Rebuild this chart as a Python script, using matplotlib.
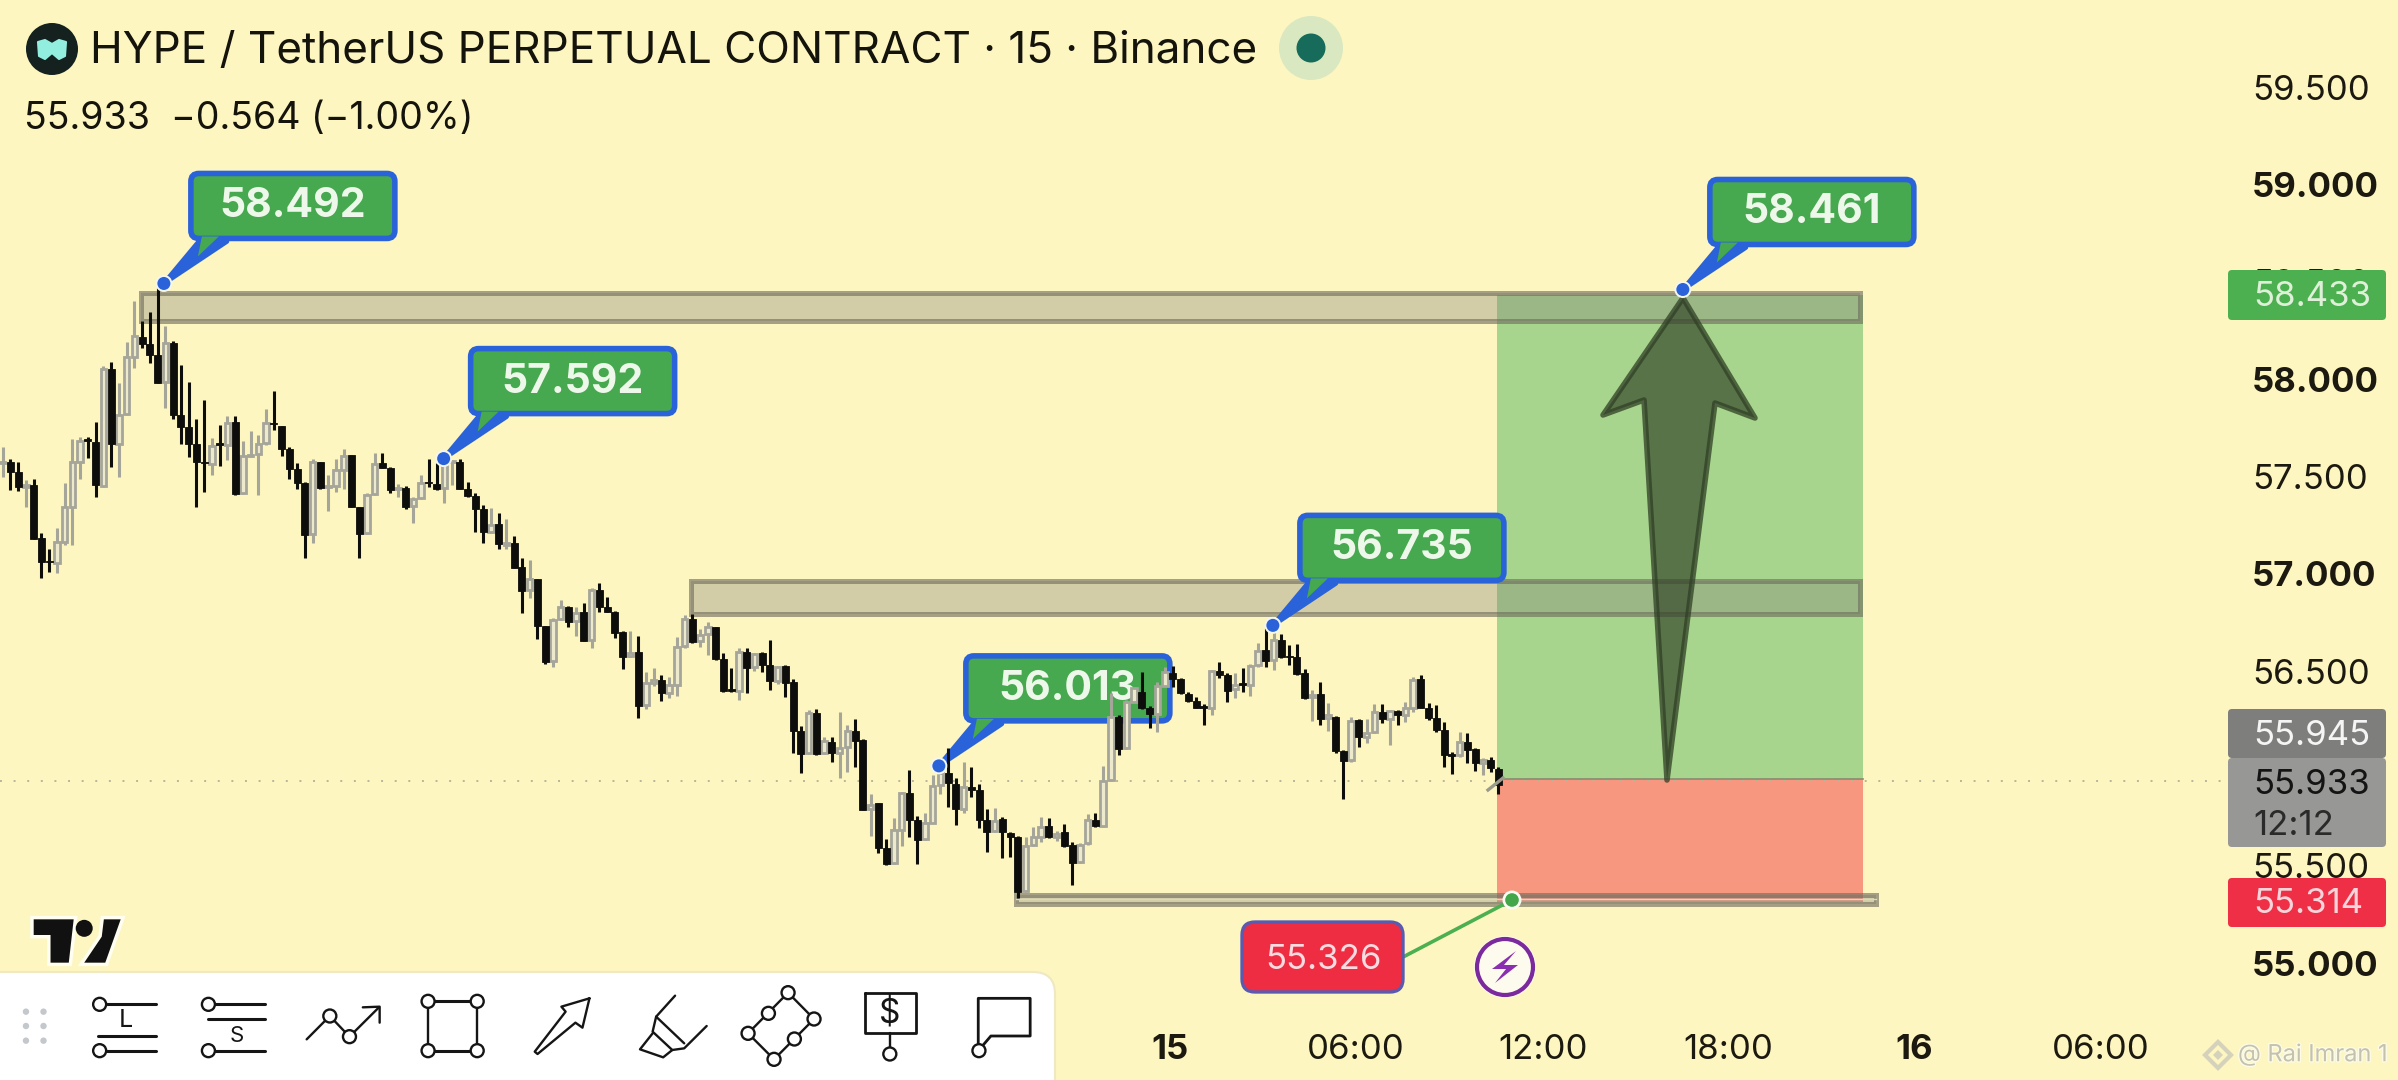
import matplotlib
matplotlib.use("Agg")
import matplotlib.pyplot as plt
from matplotlib.colors import to_rgba
from matplotlib.patches import Rectangle, Polygon, Circle, FancyBboxPatch
from matplotlib.transforms import Affine2D
import matplotlib.patheffects as pe
import numpy as np

# candles, one per 15 minutes
opens = [57.567,57.573,57.521,57.444,57.456,57.182,57.066,57.057,57.165,57.345,
    57.576,57.691,57.679,57.451,58.051,57.665,57.821,58.116,58.219,58.179,
    58.124,57.987,58.188,57.816,57.752,57.665,57.576,57.564,57.670,57.662,
    57.782,57.413,57.605,57.614,57.670,57.776,57.759,57.643,57.537,57.465,
    57.204,57.573,57.448,57.453,57.533,57.610,57.345,57.208,57.408,57.567,
    57.544,57.434,57.441,57.348,57.389,57.473,57.461,57.442,57.575,57.576,
    57.437,57.400,57.331,57.213,57.254,57.148,57.156,57.033,56.916,56.975,
    56.731,56.552,56.766,56.831,56.757,56.805,56.659,56.916,56.831,56.805,
    56.699,56.577,56.596,56.325,56.437,56.454,56.385,56.428,56.629,56.767,
    56.656,56.690,56.725,56.564,56.406,56.399,56.596,56.519,56.591,56.531,
    56.450,56.526,56.442,56.193,56.080,56.283,56.077,56.137,56.077,56.111,
    56.193,56.146,55.789,55.820,55.592,55.512,55.686,55.875,55.734,55.635,
    55.721,55.914,55.978,55.919,55.791,55.906,55.889,55.735,55.680,55.738,
    55.670,55.649,55.372,55.606,55.649,55.706,55.649,55.675,55.606,55.521,
    55.615,55.735,55.704,55.940,56.266,56.103,56.343,56.391,56.312,56.280,
    56.423,56.492,56.458,56.382,56.348,56.321,56.309,56.502,56.480,56.406,
    56.437,56.429,56.531,56.608,56.557,56.660,56.578,56.571,56.489,56.365,
    56.382,56.257,56.266,56.091,56.043,56.249,56.160,56.189,56.292,56.252,
    56.297,56.274,56.312,56.458,56.309,56.257,56.197,56.072,56.069,56.137,
    56.100,56.026,56.043,55.995]
highs = [57.653,57.588,57.572,57.482,57.485,57.208,57.129,57.234,57.468,57.691,
    57.701,57.701,57.778,58.068,58.090,57.982,58.193,58.402,58.299,58.344,
    58.484,58.273,58.196,58.073,57.984,57.795,57.893,57.699,57.765,57.812,
    57.811,57.684,57.734,57.713,57.847,57.939,57.761,57.653,57.571,57.473,
    57.588,57.573,57.508,57.590,57.641,57.610,57.345,57.417,57.622,57.622,
    57.547,57.461,57.451,57.393,57.508,57.588,57.567,57.585,57.585,57.592,
    57.473,57.413,57.353,57.336,57.315,57.281,57.196,57.079,57.071,56.975,
    56.733,56.771,56.865,56.834,56.831,56.848,56.928,56.951,56.882,56.808,
    56.706,56.707,56.680,56.497,56.514,56.480,56.468,56.677,56.788,56.791,
    56.714,56.750,56.728,56.591,56.514,56.620,56.617,56.591,56.596,56.659,
    56.528,56.531,56.457,56.217,56.300,56.303,56.163,56.163,56.288,56.223,
    56.253,56.149,55.871,55.823,55.635,55.743,55.880,55.991,55.755,55.772,
    55.966,56.000,56.103,55.949,56.034,56.008,55.920,55.790,55.795,55.749,
    55.675,55.653,55.649,55.701,55.749,55.747,55.680,55.713,55.624,55.615,
    55.764,55.769,56.012,56.386,56.274,56.352,56.420,56.494,56.322,56.446,
    56.523,56.528,56.463,56.394,56.369,56.329,56.506,56.545,56.489,56.492,
    56.514,56.537,56.643,56.720,56.711,56.691,56.634,56.639,56.509,56.403,
    56.446,56.334,56.271,56.095,56.262,56.252,56.252,56.331,56.331,56.300,
    56.300,56.343,56.471,56.480,56.334,56.326,56.237,56.086,56.185,56.180,
    56.103,56.052,56.060,56.006]
lows = [57.499,57.430,57.427,57.342,57.177,56.976,57.011,57.002,57.148,57.148,
    57.485,57.593,57.396,57.448,57.550,57.499,57.816,58.056,58.158,58.085,
    57.982,57.850,57.794,57.667,57.602,57.345,57.418,57.508,57.556,57.585,
    57.403,57.408,57.602,57.405,57.662,57.739,57.607,57.485,57.437,57.083,
    57.160,57.434,57.324,57.422,57.434,57.345,57.083,57.203,57.405,57.542,
    57.413,57.396,57.333,57.259,57.384,57.448,57.430,57.365,57.456,57.434,
    57.396,57.216,57.160,57.208,57.125,57.125,57.028,56.800,56.874,56.666,
    56.534,56.522,56.762,56.728,56.680,56.656,56.620,56.805,56.802,56.671,
    56.509,56.574,56.260,56.303,56.423,56.348,56.360,56.372,56.617,56.646,
    56.625,56.582,56.557,56.394,56.394,56.351,56.385,56.502,56.493,56.402,
    56.433,56.365,56.080,55.974,56.074,56.068,56.072,56.034,55.949,55.979,
    56.008,55.786,55.654,55.567,55.503,55.507,55.601,55.649,55.507,55.632,
    55.717,55.871,55.803,55.709,55.769,55.854,55.695,55.572,55.675,55.538,
    55.546,55.332,55.367,55.601,55.624,55.641,55.629,55.598,55.401,55.516,
    55.606,55.701,55.701,55.937,56.069,56.100,56.334,56.305,56.209,56.189,
    56.420,56.420,56.381,56.343,56.309,56.223,56.274,56.466,56.343,56.360,
    56.394,56.372,56.523,56.523,56.506,56.566,56.531,56.480,56.357,56.245,
    56.223,56.194,56.081,55.843,56.035,56.108,56.132,56.184,56.232,56.119,
    56.223,56.240,56.292,56.309,56.249,56.189,56.009,55.971,56.060,56.026,
    55.988,55.966,55.983,55.867]
closes = [57.576,57.521,57.444,57.456,57.177,57.062,57.060,57.165,57.345,57.576,
    57.682,57.682,57.456,58.051,57.665,57.816,58.112,58.222,58.179,58.124,
    57.982,58.184,57.816,57.752,57.665,57.573,57.569,57.658,57.663,57.776,
    57.408,57.605,57.610,57.667,57.773,57.768,57.640,57.537,57.465,57.199,
    57.573,57.439,57.453,57.533,57.607,57.345,57.203,57.405,57.564,57.542,
    57.430,57.439,57.342,57.386,57.465,57.468,57.434,57.576,57.580,57.437,
    57.400,57.331,57.216,57.250,57.153,57.160,57.028,56.913,56.971,56.733,
    56.545,56.762,56.831,56.750,56.800,56.656,56.916,56.831,56.805,56.697,
    56.574,56.591,56.322,56.437,56.454,56.385,56.428,56.625,56.767,56.651,
    56.685,56.728,56.560,56.399,56.397,56.599,56.514,56.587,56.531,56.449,
    56.522,56.440,56.193,56.074,56.283,56.072,56.142,56.077,56.103,56.193,
    56.142,55.786,55.811,55.589,55.507,55.683,55.875,55.734,55.632,55.717,
    55.909,55.978,55.923,55.791,55.906,55.889,55.735,55.675,55.731,55.675,
    55.649,55.367,55.601,55.649,55.701,55.649,55.663,55.603,55.516,55.606,
    55.735,55.704,55.937,56.266,56.100,56.343,56.411,56.312,56.278,56.423,
    56.497,56.458,56.386,56.348,56.312,56.312,56.502,56.480,56.400,56.429,
    56.429,56.526,56.605,56.554,56.660,56.574,56.573,56.483,56.360,56.377,
    56.252,56.274,56.089,56.038,56.245,56.160,56.184,56.292,56.252,56.297,
    56.274,56.309,56.454,56.312,56.257,56.197,56.069,56.064,56.137,56.095,
    56.026,56.043,56.000,55.915]

# axis ticks, 56.000 sits fully behind the price tags in the reference
y_ticks = [55.0, 55.5, 56.5, 57.0, 57.5, 58.0, 58.5, 59.0, 59.5]
y_labels = ["55.000", "55.500", "56.500", "57.000", "57.500", "58.000", "58.500", "59.000", "59.500"]
x_ticks = [150.6, 174.6, 198.7, 222.7, 246.7, 270.7]
x_labels = ["15", "06:00", "12:00", "18:00", "16", "06:00"]

# drawn levels
zone_starts = [17.8, 88.8, 130.8]
zone_ends = [239.7, 239.7, 241.7]
zone_tops = [58.443, 56.963, 55.350]
zone_bottoms = [58.299, 56.793, 55.303]
pos_start = 192.8
pos_end = 240
entry_price = 55.945
target_price = 58.433
stop_price = 55.314
last_price = 55.933

# price callouts
callout_labels = ["58.492", "57.592", "56.013", "56.735", "58.461"]
callout_idx = [20.8, 56.9, 120.8, 163.9, 216.8]
callout_prices = [58.492, 57.592, 56.013, 56.735, 58.461]

BG = "#fdf6c0"
W, H = 2398, 1080
DPI = 100
plt.rcParams['font.family'] = ['Inter', 'DejaVu Sans']

fig = plt.figure(figsize=(W / DPI, H / DPI), dpi=DPI, facecolor=BG)
ax = fig.add_axes([0, 0, 1, 1], facecolor=BG)
ax.set_xlim(-0.345, 309.08)
ax.set_ylim(54.3988, 59.9486)
for s in ax.spines.values():
    s.set_visible(False)

# pixel coordinates, y pointing down, for the overlay drawing
px = Affine2D().scale(1, -1).translate(0, H)


def to_px(i, price):
    xp, yp = ax.transData.transform((i, price))
    return xp, H - yp


ax.yaxis.tick_right()
ax.set_yticks(y_ticks)
ax.set_yticklabels(y_labels)
ax.tick_params(axis='y', length=0, pad=-105, labelsize=25, labelcolor="#1c1a10")
for lab, v in zip(ax.get_yticklabels(), y_ticks):
    if float(v).is_integer():
        lab.set_fontweight('bold')
ax.set_xticks(x_ticks)
ax.set_xticklabels(x_labels)
ax.tick_params(axis='x', length=0, pad=-33, labelsize=25, labelcolor="#1c1a10")
for lab, t in zip(ax.get_xticklabels(), x_labels):
    if ":" not in t:
        lab.set_fontweight('bold')

# position tool
ax.add_patch(Rectangle((pos_start, entry_price), pos_end - pos_start, target_price - entry_price,
                       facecolor="#a8d58d", edgecolor="none", zorder=1))
ax.add_patch(Rectangle((pos_start, stop_price), pos_end - pos_start, entry_price - stop_price,
                       facecolor="#f7977f", edgecolor="none", zorder=1))
ax.plot([pos_start, pos_end], [entry_price, entry_price], color="#8a8a70", lw=1.2, zorder=1.2)

# zones
for a, b, top, bot in zip(zone_starts, zone_ends, zone_tops, zone_bottoms):
    ax.add_patch(Rectangle((a, bot), b - a, top - bot, facecolor=to_rgba("#7e7c77", 0.33),
                           edgecolor="none", zorder=2))
    ax.add_patch(Rectangle((a, bot), b - a, top - bot, facecolor="none",
                           edgecolor=to_rgba("#6f6c5e", 0.62), lw=3.6, zorder=2.1))
# thin light strip of the bottom zone
ax.plot([zone_starts[2], zone_ends[2]], [(zone_tops[2] + zone_bottoms[2]) / 2] * 2,
        color="#dcd8bc", lw=1.0, zorder=2.2)

# last price dotted line
ax.plot([-0.345, 290], [last_price, last_price], color="#b9b59a", lw=1.4,
        dashes=(1, 6), zorder=1.5)


# callouts, box offset from the anchor is the same for all of them
def callout(label, i, price):
    xa, ya = to_px(i, price)
    left = xa + 25
    bottom = ya - 42
    top = bottom - 71
    tail = Polygon([(xa, ya), (left + 10, bottom), (left + 38, bottom)], closed=True,
                   facecolor="#2a62d9", edgecolor="#2a62d9", lw=3.4, transform=px, zorder=3.4,
                   joinstyle='round')
    ax.add_patch(tail)
    box = FancyBboxPatch((left + 2, top + 3), 204, 65, boxstyle="round,pad=0,rounding_size=8",
                         facecolor="#46a84f", edgecolor="#2a62d9", lw=4, transform=px, zorder=3.5)
    ax.add_patch(box)
    # green sliver of the tail
    ax.add_patch(Polygon([(left + 13, bottom - 5), (left + 30, bottom - 5), (left + 9, bottom + 15)],
                         closed=True, facecolor="#46a84f", edgecolor="none", transform=px, zorder=3.6))
    ax.text(left + 104, top + 36, label, color="#eef8ea", fontsize=29.5, fontweight='bold',
            ha='center', va='center', transform=px, zorder=3.7)
    ax.add_patch(Circle((xa, ya), 8.5, facecolor="#f5f6ee", edgecolor="none", transform=px, zorder=5))
    ax.add_patch(Circle((xa, ya), 6.5, facecolor="#2a62d9", edgecolor="none", transform=px, zorder=5.1))


for lab, i, p in zip(callout_labels, callout_idx, callout_prices):
    callout(lab, i, p)

# candles
idx = np.arange(len(opens))
o = np.array(opens)
c = np.array(closes)
up = c >= o
ax.vlines(idx[up], np.array(lows)[up], np.array(highs)[up], color="#a5a59a", lw=2.2, zorder=4)
ax.bar(idx[up], (c - o)[up], bottom=o[up], width=0.72, facecolor="#ede9cd", edgecolor="#a5a59a",
       lw=2.0, zorder=4.1)
ax.vlines(idx[~up], np.array(lows)[~up], np.array(highs)[~up], color="#0d0d0b", lw=2.2, zorder=4.2)
ax.bar(idx[~up], (o - c)[~up], bottom=c[~up], width=0.92, facecolor="#0d0d0b", edgecolor="#0d0d0b",
       lw=0.6, zorder=4.3)
ax.plot([1488, 1503], [790, 778], color="#9a9a8c", lw=2.4, transform=px, zorder=4.4)

# big arrow
arrow_pts = [(1683, 298), (1755, 418), (1715, 403), (1667, 780), (1644, 400), (1603, 415)]
ax.add_patch(Polygon(arrow_pts, closed=True, facecolor=to_rgba("#2f3f25", 0.65),
                     edgecolor=to_rgba("#2f3f25", 0.75), lw=4, joinstyle='round', transform=px, zorder=3))

# right scale tags
TAG_X, TAG_W = 2228, 158
tags = [(270, 50, "#4caf50"), (709, 49, "#7e7e7c"), (758, 89, "#979795"), (878, 49, "#ee2f45")]
for top, h, col in tags:
    ax.add_patch(FancyBboxPatch((TAG_X, top), TAG_W, h, boxstyle="round,pad=0,rounding_size=4",
                                facecolor=col, edgecolor="none", transform=px, zorder=6))
tag_texts = [("58.433", 297, "#dff0d8"), ("55.945", 736, "#f5f5f5"), ("55.933", 785, "#141414"),
             ("12:12", 826, "#2a2a2a"), ("55.314", 904, "#f7d4da")]
for s, y, col in tag_texts:
    ax.text(2253, y, s, color=col, fontsize=25, va='center', ha='left', transform=px, zorder=7)

# stop label and dot
ax.plot([1405, 1512], [956, 900], color="#4caf50", lw=2.6, transform=px, zorder=6)
ax.add_patch(FancyBboxPatch((1242, 922), 161, 70, boxstyle="round,pad=0,rounding_size=13",
                            facecolor="#ef2d42", edgecolor="#5a5bb0", lw=2.4, transform=px, zorder=6.1))
ax.text(1323, 960, "55.326", color="#f9dbe0", fontsize=25, ha='center', va='center', transform=px, zorder=6.2)
ax.add_patch(Circle((1512, 900), 9.5, facecolor="#fbfbf2", edgecolor="none", transform=px, zorder=6.3))
ax.add_patch(Circle((1512, 900), 6.8, facecolor="#43a648", edgecolor="none", transform=px, zorder=6.4))

# lightning badge
ax.add_patch(Circle((1505, 967), 31, facecolor="#fdfbee", edgecolor="none", transform=px, zorder=5.9))
ax.add_patch(Circle((1505, 967), 28, facecolor="#fdfbee", edgecolor="#7b2a9e", lw=3, transform=px, zorder=6))
ax.add_patch(Polygon([(1516, 951), (1492, 969), (1506, 969), (1495, 983), (1518, 965), (1504, 965)],
                     closed=True, facecolor="#8a2fb0", edgecolor="none", transform=px, zorder=6.1))

# header
ax.add_patch(Circle((52, 49), 26, facecolor="#14211f", edgecolor="none", transform=px, zorder=8))
ax.add_patch(Polygon([(38, 42), (45, 40), (52, 44), (59, 40), (66, 42), (65, 56), (59, 59), (52, 53), (45, 59), (39, 56)],
                     closed=True, facecolor="#92efe0", edgecolor="#92efe0", lw=1.5, joinstyle='round',
                     transform=px, zorder=8.1))
ax.text(90, 52, "HYPE / TetherUS PERPETUAL CONTRACT · 15 · Binance", color="#15140c", fontsize=31.7,
        va='center', ha='left', transform=px, zorder=8)
ax.text(24, 119, "55.933  −0.564 (−1.00%)", color="#15140c", fontsize=27,
        va='center', ha='left', transform=px, zorder=8)
ax.add_patch(Circle((1311, 48), 32, facecolor="#d9e8c0", edgecolor="none", transform=px, zorder=8))
ax.add_patch(Circle((1311, 48), 14.5, facecolor="#166b5a", edgecolor="none", transform=px, zorder=8.1))


# toolbar, all icon coordinates are in a 1568 wide crop of the lower left corner
def tx(v):
    return v / 1.425


def ty(v):
    return 900 + v / 3


def tl(points, lw=1.7, zorder=9.1, closed=False):
    pts = [(tx(a), ty(b)) for a, b in points]
    if closed:
        pts.append(pts[0])
    xs, ys = zip(*pts)
    ax.plot(xs, ys, color="#151515", lw=lw, transform=px, zorder=zorder, solid_capstyle='round')


def tc(a, b):
    ax.add_patch(Circle((tx(a), ty(b)), 6.5, facecolor="white", edgecolor="#151515", lw=1.7,
                        transform=px, zorder=9.2))


shadow = FancyBboxPatch((-30, 972), 1085, 160, boxstyle="round,pad=0,rounding_size=22",
                        facecolor="white", edgecolor="#efe8c0", lw=1.5, transform=px, zorder=9)
ax.add_patch(shadow)
for a in (37, 62):
    for b in (335, 378, 422):
        ax.add_patch(Circle((tx(a), ty(b)), 3.2, facecolor="#c4c8cc", edgecolor="none", transform=px, zorder=9.1))

tl([(152, 313), (222, 313)], 2.2)
tl([(140, 408), (222, 408)], 2.2)
tl([(152, 452), (222, 452)], 2.2)
tc(142, 313)
tc(142, 452)
ax.text(tx(180), ty(362), "L", fontsize=18, ha='center', va='center', color="#151515", transform=px, zorder=9.2)

tl([(307, 313), (378, 313)], 2.2)
tl([(296, 356), (378, 356)], 2.2)
tl([(307, 452), (378, 452)], 2.2)
tc(297, 313)
tc(297, 452)
ax.text(tx(337), ty(408), "S", fontsize=16, ha='center', va='center', color="#151515", transform=px, zorder=9.2)

tl([(437, 418), (470, 348), (498, 410), (540, 322)])
tl([(517, 322), (541, 320), (541, 368)])
tc(470, 348)
tc(498, 410)

tl([(610, 304), (680, 304)], 2.2)
tl([(610, 452), (680, 452)], 2.2)
tl([(610, 304), (610, 452)])
tl([(680, 304), (680, 452)])
for a, b in [(610, 304), (680, 304), (610, 452), (680, 452)]:
    tc(a, b)

tl([(840, 295), (800, 320), (806, 335), (762, 455), (766, 462), (820, 368), (830, 383)], closed=True)

tl([(962, 287), (935, 350), (975, 430)])
tl([(1007, 378), (975, 445), (958, 450), (930, 395), (935, 350)])
tl([(930, 400), (912, 448), (945, 472), (958, 450)])

tl([(1123, 278), (1066, 400), (1103, 478), (1160, 357)], closed=True)
for a, b in [(1123, 278), (1095, 340), (1160, 357), (1066, 400), (1132, 417), (1103, 478)]:
    tc(a, b)

tl([(1232, 278), (1305, 278), (1305, 400), (1232, 400)], 2.0, closed=True)
ax.text(tx(1268), ty(340), "$", fontsize=24, ha='center', va='center', color="#151515", transform=px, zorder=9.2)
tl([(1268, 400), (1268, 445)])
tc(1268, 462)

tl([(1394, 445), (1394, 295), (1468, 295), (1468, 408), (1412, 408), (1397, 445)], 2.0)
tc(1395, 452)

# tradingview mark
halo = [pe.withStroke(linewidth=5, foreground="#fffef0")]
for pts in ([(48, 58), (105, 58), (98, 188), (72, 188), (72, 105), (48, 105)],
            [(172, 58), (150, 188), (120, 188), (145, 110), (148, 58)]):
    p = Polygon([(tx(a), ty(b)) for a, b in pts], closed=True, facecolor="#111111", edgecolor="none",
                transform=px, zorder=8)
    p.set_path_effects(halo)
    ax.add_patch(p)
tvdot = Circle((tx(120), ty(85)), 8.5, facecolor="#111111", edgecolor="none", transform=px, zorder=8)
ax.add_patch(tvdot)

# watermark
ax.text(2238, 1055, "@ Rai Imran 1", color="#c4c1ac", fontsize=17, va='center', ha='left',
        transform=px, zorder=8, path_effects=[pe.withStroke(linewidth=2, foreground="#fbfbe8")])
ax.add_patch(Polygon([(2218, 1042), (2231, 1055), (2218, 1068), (2205, 1055)], closed=True, facecolor="none",
                     edgecolor="#d5d2bc", lw=3, transform=px, zorder=8))
ax.add_patch(Polygon([(2218, 1050), (2223, 1055), (2218, 1060), (2213, 1055)], closed=True, facecolor="#d5d2bc",
                     edgecolor="none", transform=px, zorder=8))

fig.savefig("out.png", dpi=DPI, facecolor=BG)
